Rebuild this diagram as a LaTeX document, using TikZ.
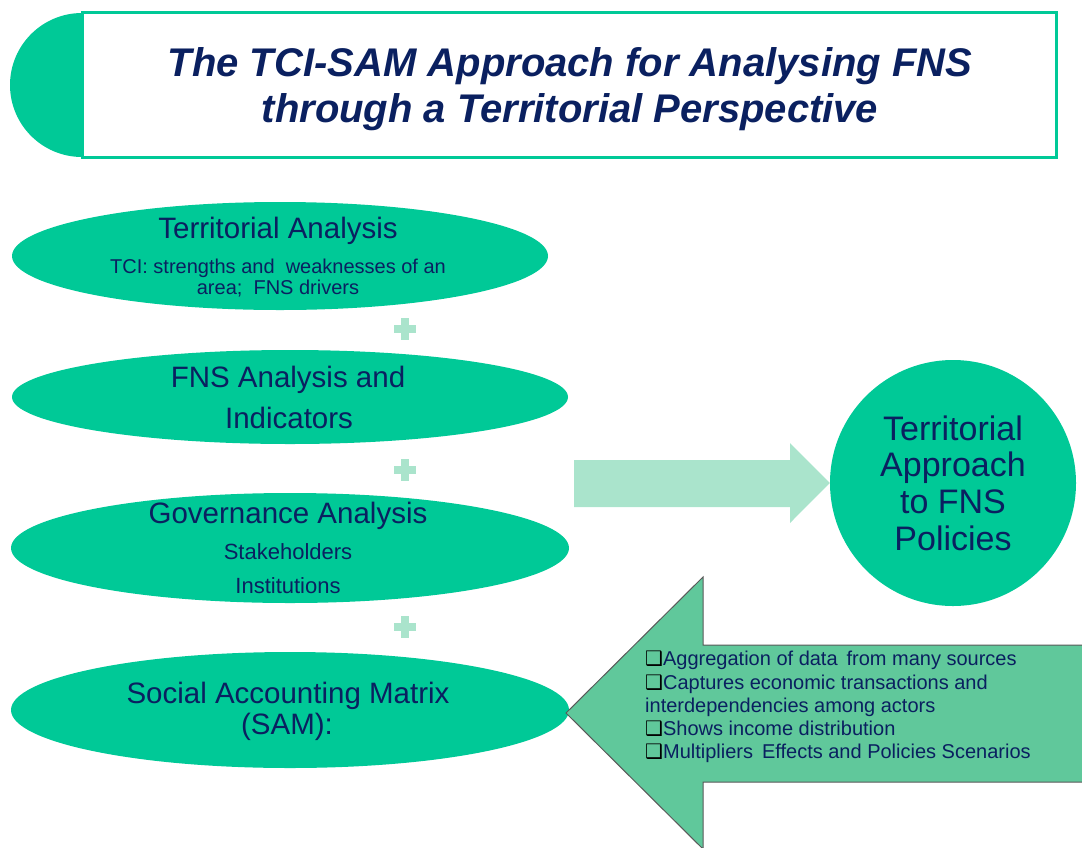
\documentclass[tikz,border=0pt]{standalone}
\usepackage{fontspec}
\setmainfont{Liberation Sans}
\newfontfamily\dejavu{DejaVu Sans}
\usetikzlibrary{shapes.geometric}
\definecolor{mygreen}{RGB}{0,201,151}
\definecolor{mint}{RGB}{170,228,204}
\definecolor{arrowgreen}{RGB}{96,200,155}
\definecolor{navy}{RGB}{10,32,96}
\newcommand{\cbx}{{\dejavu\color{black}\fontsize{20}{20}\selectfont ❑}}
\begin{document}
\begin{tikzpicture}[x=1pt,y=-1pt,
  ell/.style={ellipse, fill=mygreen, draw=none, inner sep=0pt},
  bigtext/.style={text=navy, font=\fontsize{29.5}{30}\selectfont, inner sep=0pt, anchor=base},
  smalltext/.style={text=navy, font=\fontsize{20}{22}\selectfont, inner sep=0pt, anchor=base},
  plusarm/.style={fill=mint, draw=none}
]
\useasboundingbox (0,0) rectangle (1082,847);
\clip (0,0) rectangle (1082,847);

% title block
\begin{scope}
  \clip (0,0) rectangle (84,200);
  \node (halfdisc) [circle, fill=mygreen, minimum size=144pt, inner sep=0pt] at (82,85) {};
\end{scope}
\node (titlebox) [draw=mygreen, line width=3pt, fill=white, minimum width=974pt, minimum height=145pt, inner sep=0pt] at (569,84.5) {};
\node (title) [font=\fontsize{40}{46}\selectfont\bfseries\itshape, text=navy, align=center, inner sep=0pt] at (570,89) {The TCI-SAM Approach for Analysing FNS\\through a Territorial Perspective};

% ellipses
\node (e1) [ell, minimum width=536pt, minimum height=108pt] at (280,256) {};
\node (e2) [ell, minimum width=556pt, minimum height=94pt] at (290,397) {};
\node (e3) [ell, minimum width=558pt, minimum height=110pt] at (290,548) {};
\node (e4) [ell, minimum width=558pt, minimum height=116pt] at (290,710) {};

\node (t1a) [bigtext] at (278,238) {Territorial Analysis};
\node (t1b) [smalltext] at (278,273) {TCI: strengths and\ \ weaknesses of an};
\node (t1c) [smalltext] at (278,294) {area;\ \ FNS drivers};
\node (t2a) [bigtext] at (288,387) {FNS Analysis and};
\node (t2b) [bigtext] at (289,428) {Indicators};
\node (t3a) [bigtext] at (288,523) {Governance Analysis};
\node (t3b) [smalltext, font=\fontsize{22}{24}\selectfont] at (288,559) {Stakeholders};
\node (t3c) [smalltext, font=\fontsize{22}{24}\selectfont] at (288,593) {Institutions};
\node (t4a) [bigtext] at (288,703) {Social Accounting Matrix};
\node (t4b) [bigtext] at (287,734) {(SAM):};

% plus signs
\foreach \n/\yy in {p1/329, p2/470, p3/627}{
  \coordinate (\n) at (405,\yy);
  \fill[plusarm] ([xshift=-11pt,yshift=-4pt]\n) rectangle ([xshift=11pt,yshift=4pt]\n);
  \fill[plusarm] ([xshift=-4pt,yshift=-11pt]\n) rectangle ([xshift=4pt,yshift=11pt]\n);
}

% goal circle
\node (goal) [circle, fill=mygreen, minimum size=246pt, inner sep=0pt, text=navy, align=center,
  font=\fontsize{34}{36.7}\selectfont] at (953,483) {Territorial\\Approach\\to FNS\\Policies};

% light arrow towards the circle
\coordinate (la) at (574,483);
\fill[mint] (574,460) -- (790,460) -- (790,443) -- (goal.west) -- (790,523) -- (790,507) -- (574,507) -- cycle;

% big arrow pointing left to SAM
\coordinate (bt) at (566,713);
\filldraw[fill=arrowgreen, draw=black!65, line width=1pt] (bt) -- (703,577) -- (703,645) -- (1090,645) -- (1090,782) -- (703,782) -- (703,849) -- cycle;
\node (samlist) [anchor=north west, align=left, text=navy, inner sep=0pt,
  font=\fontsize{20}{23.3}\selectfont] at (645,651)
  {\cbx Aggregation of data\ \,from many sources\\
   \cbx Captures economic transactions and\\
   interdependencies among actors\\
   \cbx Shows income distribution\\
   \cbx Multipliers\ \,Effects and Policies Scenarios};
\end{tikzpicture}
\end{document}
